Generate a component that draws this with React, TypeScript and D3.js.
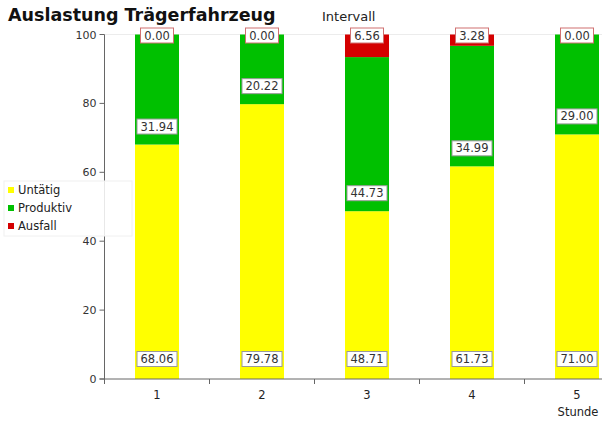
import React from "react";
import * as d3 from "d3";

// Stunden (Kategorien)
const stunden = ["1", "2", "3", "4", "5"];
// Werte je Serie in Prozent
const untaetig = [68.06, 79.78, 48.71, 61.73, 71.0];
const produktiv = [31.94, 20.22, 44.73, 34.99, 29.0];
const ausfall = [0.0, 0.0, 6.56, 3.28, 0.0];
const yTicks = [0, 20, 40, 60, 80, 100];

const serien = [
  { name: "Untätig", werte: untaetig, farbe: "#ffff00", rand: "#9a9a9a" },
  { name: "Produktiv", werte: produktiv, farbe: "#00c000", rand: "#9a9a9a" },
  { name: "Ausfall", werte: ausfall, farbe: "#d40000", rand: "#d07070" },
];

const W = 602,
  H = 421;
const font = "'DejaVu Sans', Verdana, sans-serif";

export default function App() {
  const margin = { top: 34.5, left: 104.5, bottom: 42 };
  const y = d3.scaleLinear().domain([0, 100]).range([H - margin.bottom, margin.top]);
  const x = d3.scaleBand().domain(stunden).range([margin.left, margin.left + 525]);
  const barW = 44;

  const stack = d3
    .stack<number>()
    .keys(serien.map((s, i) => String(i)))
    .value((i, k) => serien[+k].werte[i])(stunden.map((_, i) => i));

  const label = (text: string, cx: number, cy: number, rand: string, key: string) => {
    const w = text.length * 7 + 5;
    return (
      <g key={key}>
        <rect x={cx - w / 2} y={cy - 7.5} width={w} height={15} fill="#fff" stroke={rand} strokeWidth={1} />
        <text x={cx} y={cy + 4} textAnchor="middle" fontSize={11.5} fill="#333" fontFamily={font}>
          {text}
        </text>
      </g>
    );
  };

  return (
    <svg width={W} height={H} style={{ position: "absolute", left: 0, top: 0, background: "#fff" }}>
      <text x={8} y={21} fontSize={17.5} fontWeight="bold" fontFamily={font} fill="#111">
        Auslastung Trägerfahrzeug
      </text>
      <text x={322} y={21} fontSize={13} fontFamily={font} fill="#222">
        Intervall
      </text>

      {/* obere Gitterlinie */}
      <line x1={margin.left} x2={W} y1={y(100)} y2={y(100)} stroke="#ececec" />

      {/* Balken */}
      {stack.map((layer, si) =>
        layer.map((d, i) => (
          <rect
            key={si + "-" + i}
            x={x(stunden[i])! + (x.bandwidth() - barW) / 2}
            y={y(d[1])}
            width={barW}
            height={y(d[0]) - y(d[1])}
            fill={serien[si].farbe}
          />
        ))
      )}

      {/* Wertebeschriftungen */}
      {stunden.map((s, i) => {
        const cx = x(s)! + x.bandwidth() / 2;
        return (
          <g key={"lab" + s}>
            {label(untaetig[i].toFixed(2), cx, y(0) - 20, serien[0].rand, "u")}
            {label(produktiv[i].toFixed(2), cx, y(untaetig[i]) - 18, serien[1].rand, "p")}
            {label(ausfall[i].toFixed(2), cx, y(100) + 1, serien[2].rand, "a")}
          </g>
        );
      })}

      {/* Y-Achse */}
      <line x1={margin.left} x2={margin.left} y1={y(100)} y2={y(0)} stroke="#666" />
      {yTicks.map((t) => (
        <g key={"yt" + t}>
          <line x1={margin.left - 5} x2={margin.left} y1={y(t)} y2={y(t)} stroke="#666" />
          <text x={margin.left - 8} y={y(t) + 4} textAnchor="end" fontSize={11} fontFamily={font} fill="#333">
            {t}
          </text>
        </g>
      ))}

      {/* X-Achse */}
      <line x1={margin.left - 5} x2={W} y1={y(0)} y2={y(0)} stroke="#666" />
      {stunden.map((s) => (
        <g key={"xt" + s}>
          <line x1={x(s)!} x2={x(s)!} y1={y(0)} y2={y(0) + 5} stroke="#666" />
          <text x={x(s)! + x.bandwidth() / 2} y={y(0) + 20} textAnchor="middle" fontSize={11.5} fontFamily={font} fill="#222">
            {s}
          </text>
        </g>
      ))}
      <text x={578} y={416} textAnchor="middle" fontSize={11.5} fontFamily={font} fill="#222">
        Stunde
      </text>

      {/* Legende */}
      <rect x={4} y={181} width={128} height={55} fill="#fff" fillOpacity={0.85} stroke="#f0f0f0" />
      {serien.map((s, i) => (
        <g key={"leg" + i}>
          <rect x={8} y={187 + i * 18} width={6} height={6} fill={s.farbe} />
          <text x={18} y={194 + i * 18} fontSize={11.5} fontFamily={font} fill="#222">
            {s.name}
          </text>
        </g>
      ))}
    </svg>
  );
}
